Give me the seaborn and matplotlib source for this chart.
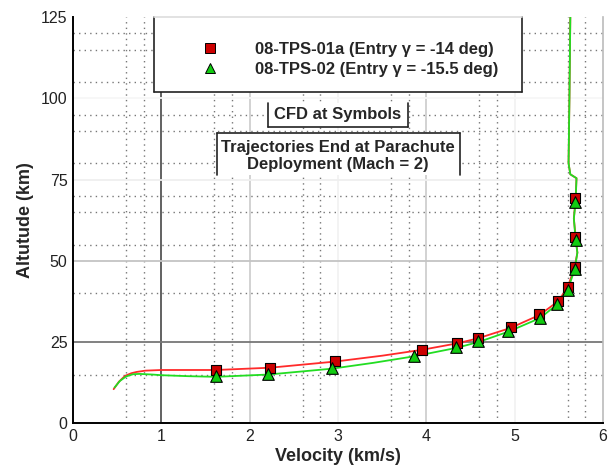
import matplotlib
matplotlib.use("Agg")
import matplotlib.pyplot as plt
from matplotlib.patches import Rectangle
from matplotlib.lines import Line2D
import numpy as np
import pandas as pd
import seaborn as sns

# ---------------- data ----------------
red_line_v = [0.46, 0.52, 0.59, 0.66, 0.72, 0.82, 1.00, 1.62, 2.23, 2.97, 3.50, 3.95, 4.35,
              4.58, 4.95, 5.28, 5.49, 5.60, 5.68, 5.71, 5.69, 5.67, 5.69, 5.70, 5.63, 5.61, 5.62, 5.63]
red_line_h = [10.5, 12.8, 14.6, 15.4, 15.8, 16.2, 16.4, 16.4, 17.1, 19.0, 20.8, 22.6, 24.6,
              26.1, 29.3, 33.3, 37.5, 41.8, 48.2, 52.5, 57.4, 63.0, 69.2, 75.4, 76.6, 80.0, 100.0, 125.0]

green_line_v = [0.47, 0.53, 0.60, 0.68, 0.75, 0.90, 1.00, 1.30, 1.62, 2.21, 2.93, 3.40, 3.86, 4.34,
                4.59, 4.93, 5.29, 5.48, 5.60, 5.68, 5.71, 5.69, 5.67, 5.69, 5.70, 5.63, 5.61, 5.62, 5.63]
green_line_h = [11.0, 13.0, 14.4, 15.1, 15.2, 15.0, 14.8, 14.5, 14.3, 15.0, 16.8, 18.6, 20.6, 23.2,
                25.0, 28.2, 32.4, 36.6, 41.0, 47.4, 52.5, 56.4, 63.0, 68.2, 75.4, 76.6, 80.0, 100.0, 125.0]

red_cfd_v = [1.62, 2.23, 2.97, 3.95, 4.35, 4.58, 4.955, 5.28, 5.49, 5.60, 5.68, 5.687, 5.687]
red_cfd_h = [16.4, 17.1, 19.2, 22.6, 24.6, 26.3, 29.5, 33.5, 37.6, 41.8, 48.2, 57.4, 69.2]

green_cfd_v = [1.62, 2.21, 2.93, 3.86, 4.34, 4.59, 4.93, 5.29, 5.48, 5.60, 5.68, 5.69, 5.687]
green_cfd_h = [14.4, 15.2, 16.9, 20.7, 23.4, 25.4, 28.5, 32.5, 36.7, 41.0, 47.4, 56.4, 68.2]

series_labels = ["08-TPS-01a (Entry \u03b3 = -14 deg)", "08-TPS-02 (Entry \u03b3 = -15.5 deg)"]
note_cfd = "CFD at Symbols"
note_traj = "Trajectories End at Parachute\nDeployment (Mach = 2)"
x_label = "Velocity (km/s)"
y_label = "Altutude (km)"
x_ticks = [0, 1, 2, 3, 4, 5, 6]
y_ticks = [0, 25, 50, 75, 100, 125]

# ---------------- styling ----------------
sns.set_style("white")
plt.rcParams['font.family'] = ['Liberation Sans', 'DejaVu Sans']

RED_LINE = "#ff2a2a"
GREEN_LINE = "#22dd22"
RED_FILL = "#cc0000"
GREEN_FILL = "#11cc11"

fig = plt.figure(figsize=(6.12, 4.70), dpi=100)
ax = fig.add_axes([73/612, (470-423.3)/470, 530/612, 406.3/470])

# grid (drawn under everything)
minor_x = [n + f for n in range(6) for f in (0.6, 0.8)]
minor_y = [15, 40, 55, 65, 70, 80, 90, 95, 105, 115, 120]
for xv in minor_x:
    ax.axvline(xv, color="#777777", lw=1.0, ls=(0, (1, 3)), zorder=0.5)
for yv in minor_y:
    ax.axhline(yv, color="#777777", lw=1.0, ls=(0, (1, 3)), zorder=0.5)
major_x_shades = {1: "#555555", 2: "#cfcfcf", 3: "#f2f2f2", 4: "#cfcfcf", 5: "#f2f2f2"}
major_y_shades = {25: "#777777", 50: "#c4c4c4", 75: "#efefef", 100: "#f7f7f7"}
for xv, c in major_x_shades.items():
    ax.axvline(xv, color=c, lw=1.3, zorder=0.6)
for yv, c in major_y_shades.items():
    ax.axhline(yv, color=c, lw=1.3, zorder=0.6)

# lines
red_df = pd.DataFrame({"v": red_line_v, "h": red_line_h})
green_df = pd.DataFrame({"v": green_line_v, "h": green_line_h})
sns.lineplot(data=red_df, x="v", y="h", sort=False, estimator=None, color=RED_LINE,
             lw=1.3, ax=ax, zorder=4)
sns.lineplot(data=green_df, x="v", y="h", sort=False, estimator=None, color=GREEN_LINE,
             lw=1.3, ax=ax, zorder=4.1)

# CFD symbols
sns.scatterplot(x=red_cfd_v, y=red_cfd_h, marker="s", s=62, color=RED_FILL,
                edgecolor="black", linewidth=0.8, ax=ax, zorder=5)
sns.scatterplot(x=green_cfd_v, y=green_cfd_h, marker="^", s=70, color=GREEN_FILL,
                edgecolor="black", linewidth=0.8, ax=ax, zorder=5.1)

ax.set_xlim(0, 6)
ax.set_ylim(0, 125)
ax.set_xticks(x_ticks)
ax.set_yticks(y_ticks)
ax.set_xticks(minor_x, minor=True)
ax.set_yticks(minor_y, minor=True)
ax.tick_params(which="major", direction="in", length=7, width=1.3, labelsize=11.5,
               colors="black", pad=4)
ax.tick_params(which="minor", direction="in", length=4.5, width=1.0, colors="black")
ax.tick_params(labelcolor="#222222")
ax.set_xlabel(x_label, fontsize=13, fontweight="bold", labelpad=3)
ax.set_ylabel(y_label, fontsize=13, fontweight="bold", labelpad=5)

for side in ("left", "bottom"):
    ax.spines[side].set_color("black")
    ax.spines[side].set_linewidth(1.4)
ax.spines["top"].set_visible(False)
ax.spines["right"].set_color("#bbbbbb")
ax.spines["right"].set_linewidth(1.2)

# legend box and notes: white boxes, with the edges that show in the reference
# (x, y, w, h, edges drawn: left, right, bottom, top)
boxes = [((0.1528, 0.8154, 0.6944, 0.1846), ("#222222", "#222222", "#222222", "#dddddd")),
         ((0.368, 0.729, 0.264, 0.059), ("#222222", "#222222", "#222222", None)),
         ((0.2717, 0.611, 0.4583, 0.1035), ("#222222", "#222222", None, "#222222"))]
for (bx, by, bw, bh), (cl, cr, cb, ct) in boxes:
    ax.add_patch(Rectangle((bx, by), bw, bh, transform=ax.transAxes, facecolor="white",
                           edgecolor="none", zorder=3, clip_on=False))
    segs = [((bx, bx), (by, by + bh), cl), ((bx + bw, bx + bw), (by, by + bh), cr),
            ((bx, bx + bw), (by, by), cb), ((bx, bx + bw), (by + bh, by + bh), ct)]
    for xs, ys, c in segs:
        if c is not None:
            ax.add_line(Line2D(xs, ys, transform=ax.transAxes, color=c, lw=1.2,
                               zorder=3.2, clip_on=False))

handles = [Line2D([], [], ls="none", marker="s", markersize=6.5, markerfacecolor=RED_FILL,
                  markeredgecolor="black", markeredgewidth=0.7),
           Line2D([], [], ls="none", marker="^", markersize=7.0, markerfacecolor=GREEN_FILL,
                  markeredgecolor="black", markeredgewidth=0.7)]
leg = ax.legend(handles, series_labels, loc="center left", bbox_to_anchor=(0.242, 0.895),
                frameon=False, borderpad=0, borderaxespad=0, handlelength=1.0,
                handletextpad=2.2, labelspacing=0.28,
                prop={"size": 12, "weight": "bold"})
leg.set_zorder(6)

ax.text(0.5, 0.7588, note_cfd, transform=ax.transAxes, ha="center", va="center",
        fontsize=12, fontweight="bold", zorder=6)
ax.text(0.5, 0.657, note_traj, transform=ax.transAxes, ha="center", va="center",
        fontsize=12, fontweight="bold", linespacing=1.15, zorder=6)

fig.savefig("out.png", dpi=100)
